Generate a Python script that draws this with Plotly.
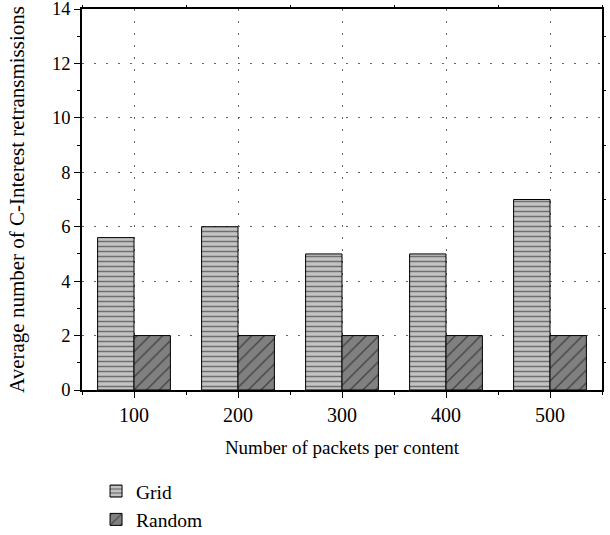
import plotly.graph_objects as go

packets = [100, 200, 300, 400, 500]
grid_vals = [5.6, 6, 5, 5, 7]
random_vals = [2, 2, 2, 2, 2]
y_major = [0, 2, 4, 6, 8, 10, 12, 14]
y_minor = [1, 3, 5, 7, 9, 11, 13]
x_minor = [50, 150, 250, 350, 450, 550]

FONT = "Liberation Serif"

fig = go.Figure()
fig.add_trace(go.Bar(
    x=packets, y=grid_vals, name="Grid",
    marker=dict(color="#c3c3c3", line=dict(color="black", width=1),
                pattern=dict(shape="-", fgcolor="#1a1a1a", bgcolor="#c3c3c3", size=5, solidity=0.3)),
))
fig.add_trace(go.Bar(
    x=packets, y=random_vals, name="Random",
    marker=dict(color="#808080", line=dict(color="black", width=1),
                pattern=dict(shape="/", fgcolor="black", bgcolor="#808080", size=9, solidity=0.14)),
))
# invisible trace to activate mirror axes
fig.add_trace(go.Scatter(x=[100], y=[0], xaxis="x2", yaxis="y2", mode="markers",
                         marker=dict(opacity=0), showlegend=False, hoverinfo="skip"))

fig.update_layout(
    width=610, height=535,
    margin=dict(l=82, r=8, t=9, b=145),
    paper_bgcolor="white", plot_bgcolor="white",
    font=dict(family=FONT, size=20, color="black"),
    barmode="group", bargap=0.3, bargroupgap=0,
    showlegend=True,
    legend=dict(x=0.027, xanchor="left", xref="paper", y=0.118, yanchor="top", yref="container",
                orientation="v",
                font=dict(family=FONT, size=19.5), itemwidth=30, tracegroupgap=0,
                bgcolor="rgba(0,0,0,0)"),
    xaxis=dict(
        range=[50, 550], tickvals=packets, ticktext=[str(p) for p in packets],
        ticks="outside", ticklen=6, tickwidth=1, tickcolor="black",
        tickfont=dict(family=FONT, size=20), ticklabeloverflow="allow",
        minor=dict(tickvals=x_minor, ticks="outside", ticklen=3, tickcolor="black", showgrid=False),
        showline=True, linecolor="black", linewidth=1.5, mirror=True,
        showgrid=True, gridcolor="#666666", gridwidth=1.2, griddash="1.5px,10.5px",
        zeroline=False, automargin=False,
        title=dict(text="Number of packets per content", font=dict(family=FONT, size=19), standoff=16),
    ),
    yaxis=dict(
        range=[0, 14], tickvals=y_major,
        ticks="outside", ticklen=6, tickwidth=1, tickcolor="black",
        tickfont=dict(family=FONT, size=18.5), ticklabeloverflow="allow",
        minor=dict(tickvals=y_minor, ticks="outside", ticklen=3, tickcolor="black", showgrid=False),
        showline=True, linecolor="black", linewidth=1.5, mirror=True,
        showgrid=True, gridcolor="#666666", gridwidth=1.2, griddash="1.5px,10.5px",
        zeroline=False, automargin=False,
        title=dict(text="Average number of C-Interest retransmissions", font=dict(family=FONT, size=21), standoff=22),
    ),
    xaxis2=dict(
        overlaying="x", side="top", range=[50, 550], tickvals=x_minor, showticklabels=False,
        ticks="outside", ticklen=3, tickcolor="black", showgrid=False, zeroline=False, showline=False,
        automargin=False,
    ),
    yaxis2=dict(
        overlaying="y", side="right", range=[0, 14], tickvals=y_minor, showticklabels=False,
        ticks="outside", ticklen=3, tickcolor="black", showgrid=False, zeroline=False, showline=False,
        automargin=False,
    ),
)

fig.write_html("out.html", config={"displayModeBar": False},
               post_script="document.body.style.margin='0';document.body.style.overflow='hidden';")
